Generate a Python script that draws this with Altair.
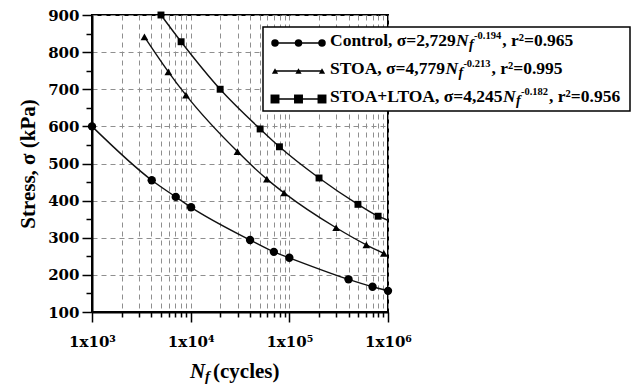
import altair as alt
import pandas as pd

# ---- data ----
control_n = [1000, 4030, 7060, 10100, 40000, 69700, 100000, 398000, 697000, 1000000]
control_s = [600, 455, 410, 382, 294, 262, 246, 188, 168, 157]
stoa_n = [3400, 5940, 8970, 29800, 59200, 88500, 298000, 603000, 908000]
stoa_s = [841, 747, 684, 532, 458, 421, 327, 281, 258]
ltoa_n = [5000, 8000, 19900, 50600, 79400, 200000, 496000, 794000]
ltoa_s = [900, 828, 700, 593, 545, 461, 390, 358]
ltoa_curve_n = ltoa_n + [1000000]
ltoa_curve_s = ltoa_s + [347]

series_names = ["Control", "STOA", "STOA+LTOA"]
legend_head = ["Control, σ=2,729", "STOA, σ=4,779", "STOA+LTOA, σ=4,245"]
legend_exp = ["-0.194", "-0.213", "-0.182"]
legend_tail = [", r²=0.965", ", r²=0.995", ", r²=0.956"]
shapes = ["circle", "triangle-up", "square"]
sizes = [70, 48, 100]

x_major = [1e3, 1e4, 1e5, 1e6]
x_minor = [m * 10 ** e for e in (3, 4, 5) for m in range(2, 10)]
y_major = list(range(100, 901, 100))
y_minor = list(range(150, 900, 100))

TICKFONT = "DejaVu Serif"
SERIF = "Liberation Serif"

# Liberation Serif Bold advance widths (em/1000) for laying out the legend text
TB = {' ': 250, ',': 250, '.': 250, '-': 333, '=': 570, '+': 520, 'C': 722, 'L': 600,
      'O': 778, 'S': 556, 'T': 667, 'A': 722, 'o': 500, 'n': 556, 't': 333, 'r': 444,
      'l': 278, 'σ': 550, '²': 300}


def tw(s, size):
    return sum(TB.get(c, 500) for c in s) / 1000.0 * size


pts = pd.DataFrame({
    "n": control_n + stoa_n + ltoa_n,
    "s": control_s + stoa_s + ltoa_s,
    "series": ["Control"] * len(control_n) + ["STOA"] * len(stoa_n) + ["STOA+LTOA"] * len(ltoa_n),
})
curves = pd.DataFrame({
    "n": control_n + stoa_n + ltoa_curve_n,
    "s": control_s + stoa_s + ltoa_curve_s,
    "series": ["Control"] * len(control_n) + ["STOA"] * len(stoa_n) + ["STOA+LTOA"] * len(ltoa_curve_n),
})

xscale = alt.Scale(type="log", domain=[1000, 1000000], nice=False)
yscale = alt.Scale(domain=[100, 900], nice=False, zero=False)

grid_kw = dict(grid=True, gridColor="#8f8f8f", gridDash=[5, 4], gridWidth=1)

# minor-tick / grid layer
minor = alt.Chart(curves).mark_point(opacity=0).encode(
    x=alt.X("n:Q", scale=xscale,
            axis=alt.Axis(values=x_minor, orient="bottom", labels=False, title=None,
                          tickSize=5, domain=False, **grid_kw)),
    y=alt.Y("s:Q", scale=yscale,
            axis=alt.Axis(values=y_minor, orient="left", labels=False, title=None,
                          tickSize=6, domain=False, grid=False)),
)

lines = alt.Chart(curves).mark_line(color="#111111", strokeWidth=1.4, interpolate="monotone").encode(
    x=alt.X("n:Q", scale=xscale,
            axis=alt.Axis(values=x_major, orient="bottom", tickSize=10,
                          labelExpr="'1x10' + ['³','⁴','⁵','⁶'][round(log(datum.value)/LN10)-3]",
                          labelFlush=False, labelOverlap=False, labelBound=False,
                          title=None, labelPadding=12, **grid_kw)),
    y=alt.Y("s:Q", scale=yscale,
            axis=alt.Axis(values=y_major, orient="left", tickSize=10, labelPadding=3,
                          labelFlush=False, labelOverlap=False,
                          title="Stress, σ (kPa)", titlePadding=9, **grid_kw)),
    detail="series:N",
)

marks = alt.Chart(pts).mark_point(filled=True, color="black", opacity=1).encode(
    x=alt.X("n:Q", scale=xscale, axis=None),
    y=alt.Y("s:Q", scale=yscale, axis=None),
    shape=alt.Shape("series:N", scale=alt.Scale(domain=series_names, range=shapes), legend=None),
    size=alt.Size("series:N", scale=alt.Scale(domain=series_names, range=sizes), legend=None),
)

one = pd.DataFrame({"a": [0]})


def txt(s, x, y, size, italic=False, font=SERIF):
    kw = dict(text=s, align="left", baseline="alphabetic", font=font, fontWeight="bold",
              fontSize=size, color="black")
    if italic:
        kw["fontStyle"] = "italic"
    return alt.Chart(one).mark_text(**kw).encode(x=alt.value(x), y=alt.value(y))


layers = [
    alt.Chart(one).mark_rect(fill="white", stroke="black", strokeWidth=1.5).encode(
        x=alt.value(171), x2=alt.value(538), y=alt.value(12), y2=alt.value(96))
]
row_y = [28, 56, 84]
F, FS, FF = 17.5, 10.5, 14
for i, name in enumerate(series_names):
    yy = row_y[i]
    layers.append(
        alt.Chart(one).mark_rule(color="black", strokeWidth=1.3).encode(
            x=alt.value(183), x2=alt.value(230), y=alt.value(yy)))
    for xx in (183, 206.5, 230):
        layers.append(
            alt.Chart(one).mark_point(filled=True, color="black", opacity=1,
                                      shape=shapes[i], size=sizes[i] * 0.8).encode(
                x=alt.value(xx), y=alt.value(yy)))
    base = yy + 3
    xa = 238
    xn = xa + tw(legend_head[i], F)
    xf = xn + 13
    xs = xf + 5
    xe = xs + tw(legend_exp[i], FS) + 1
    layers += [
        txt(legend_head[i], xa, base, F),
        txt("N", xn, base, F, italic=True),
        txt("f", xf, base + 3, FF, italic=True),
        txt(legend_exp[i], xs, base - 7, FS),
        txt(legend_tail[i], xe, base, F),
    ]

# x-axis title  N_f (cycles)
layers += [
    txt("N", 98, 363, 21, italic=True),
    txt("f", 113, 366, 15, italic=True),
    txt("(cycles)", 121, 363, 21),
]

chart = alt.layer(minor, lines, marks, *layers).resolve_axis(
    x="independent", y="independent"
).properties(
    width=296, height=297,
    autosize=alt.AutoSizeParams(type="none"),
    padding={"left": 92, "top": 15, "right": 252, "bottom": 78},
    background="white",
).configure_view(
    stroke="black", strokeWidth=2
).configure_axis(
    domainColor="black", domainWidth=2, tickColor="black", tickWidth=1.5,
    labelFont=TICKFONT, labelFontWeight="bold", labelFontSize=15, labelColor="black",
    titleFont=SERIF, titleFontWeight="bold", titleFontSize=21, titleColor="black",
)

chart.save("out.html", embed_options={"renderer": "svg", "actions": False})
